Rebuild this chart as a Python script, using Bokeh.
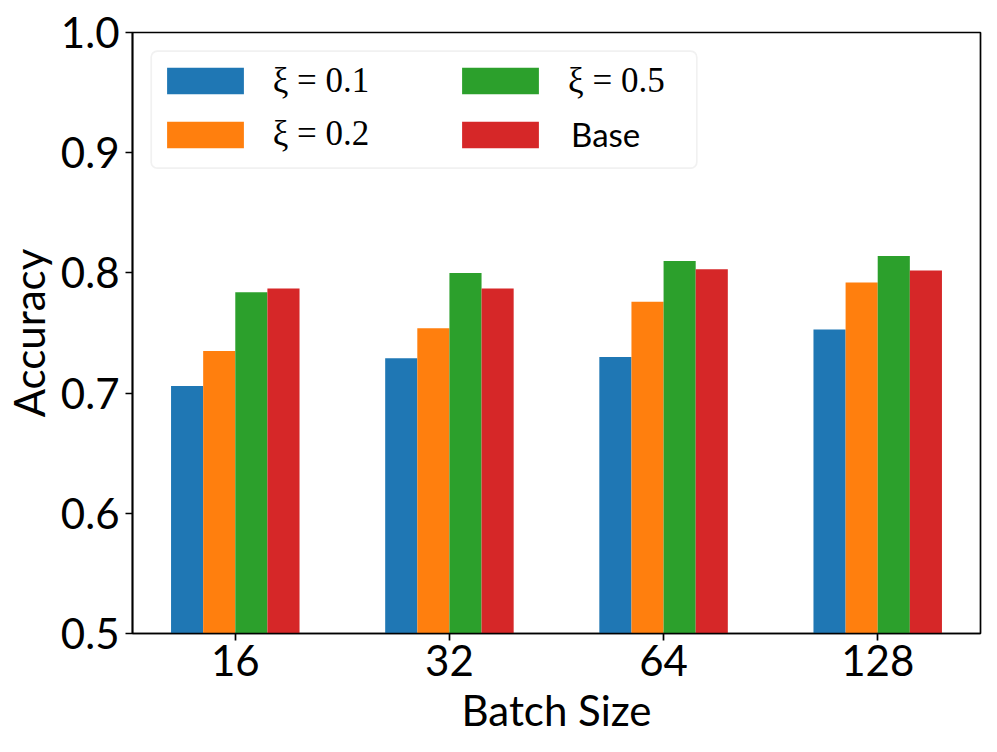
import numpy as np
from bokeh.plotting import figure
from bokeh.models import Range1d, FixedTicker, Legend, LegendItem, BoxAnnotation
from bokeh.embed import file_html
from bokeh.resources import INLINE

# ---- data ----
batch_sizes = ["16", "32", "64", "128"]
series_labels = ["ξ = 0.1", "ξ = 0.2", "ξ = 0.5", "Base"]
acc_xi_01 = [0.706, 0.729, 0.730, 0.753]
acc_xi_02 = [0.735, 0.754, 0.776, 0.792]
acc_xi_05 = [0.784, 0.800, 0.810, 0.814]
acc_base = [0.787, 0.787, 0.803, 0.802]
series_values = [acc_xi_01, acc_xi_02, acc_xi_05, acc_base]
colors = ["#1f77b4", "#ff7f0e", "#2ca02c", "#d62728"]
y_ticks = [0.5, 0.6, 0.7, 0.8, 0.9, 1.0]

bar_w = 0.15
FRAME_W, FRAME_H = 848, 601

p = figure(frame_width=FRAME_W, frame_height=FRAME_H,
           output_backend="svg", toolbar_location=None,
           x_range=Range1d(-0.48, 3.48), y_range=Range1d(0.5, 1.0),
           min_border_left=125, min_border_right=8,
           min_border_top=32, min_border_bottom=111)

idx = np.arange(len(batch_sizes))
renderers = []
for k, (vals, col) in enumerate(zip(series_values, colors)):
    off = (k - 1.5) * bar_w
    r = p.vbar(x=idx + off, top=vals, bottom=0, width=bar_w,
               fill_color=col, line_color=None)
    renderers.append(r)

# axes / frame
p.xgrid.visible = False
p.ygrid.visible = False
p.outline_line_color = "black"
p.outline_line_width = 1.7
p.outline_line_alpha = 1.0
p.background_fill_color = "white"
p.border_fill_color = "white"

p.xaxis.ticker = FixedTicker(ticks=list(idx))
p.xaxis.major_label_overrides = {int(i): b for i, b in zip(idx, batch_sizes)}
p.yaxis.ticker = FixedTicker(ticks=y_ticks)
p.yaxis.major_label_overrides = {t: f"{t:.1f}" for t in y_ticks}

for ax in (p.xaxis[0], p.yaxis[0]):
    ax.axis_line_color = "black"
    ax.axis_line_width = 1.7
    ax.major_tick_line_color = "black"
    ax.major_tick_line_width = 1.7
    ax.major_tick_in = 0
    ax.major_tick_out = 7
    ax.minor_tick_line_color = None
    ax.major_label_text_font = "Lato"
    ax.major_label_text_font_size = "42px"
    ax.major_label_text_color = "black"
    ax.axis_label_text_font = "Lato"
    ax.axis_label_text_font_size = "42px"
    ax.axis_label_text_font_style = "normal"
    ax.axis_label_text_color = "black"

p.xaxis.axis_label = "Batch Size"
p.yaxis.axis_label = "Accuracy"
p.xaxis.major_label_standoff = 4
p.xaxis.axis_label_standoff = 6
p.yaxis.major_label_standoff = 6
p.yaxis.axis_label_standoff = 4

# ---- legend frame ----
box = BoxAnnotation(left=18.7, right=564.3, bottom=FRAME_H - 135.7, top=FRAME_H - 18.7,
                    left_units="screen", right_units="screen",
                    bottom_units="screen", top_units="screen",
                    fill_color="white", fill_alpha=0.8,
                    line_color="#d0d0d0", line_width=1.7)
if "border_radius" in BoxAnnotation.properties():
    box.border_radius = 6
p.add_layout(box)

# legend area glyphs are drawn inset by 10% on each side and centred in the item
GW, GH = 96, 33
INSET_X = GW * 0.1
PATCH_H = GH * 0.8
ITEM_H = 42
TEXT_DROP = 2  # compromise: label sits slightly below patch centre in the reference

def make_legend(item, font, size, patch_left, patch_top, label_left):
    gx = patch_left - INSET_X
    centre = patch_top + PATCH_H / 2 + TEXT_DROP
    lg = Legend(items=[item], orientation="vertical",
                location=(float(gx), float(FRAME_H - (centre + ITEM_H / 2))),
                glyph_width=GW, glyph_height=GH, label_height=ITEM_H,
                label_standoff=int(round(label_left - (gx + GW))),
                spacing=0, padding=0, margin=0,
                border_line_alpha=0, background_fill_alpha=0,
                label_text_font=font, label_text_font_size=size,
                label_text_color="black")
    p.add_layout(lg)
    return lg

legend_specs = [
    # font, size, patch_left, patch_top, label_left (frame-relative px)
    ("Liberation Serif", "35px", 34.3, 33.7, 141),
    ("Liberation Serif", "35px", 34.3, 87.0, 141),
    ("Liberation Serif", "35px", 329.7, 33.7, 436),
    ("Lato", "33px", 329.7, 87.0, 439),
]
for lab, r, (font, size, pl, pt, ll) in zip(series_labels, renderers, legend_specs):
    make_legend(LegendItem(label=lab, renderers=[r]), font, size, pl, pt, ll)

open("out.html", "w").write(file_html(p, INLINE))
